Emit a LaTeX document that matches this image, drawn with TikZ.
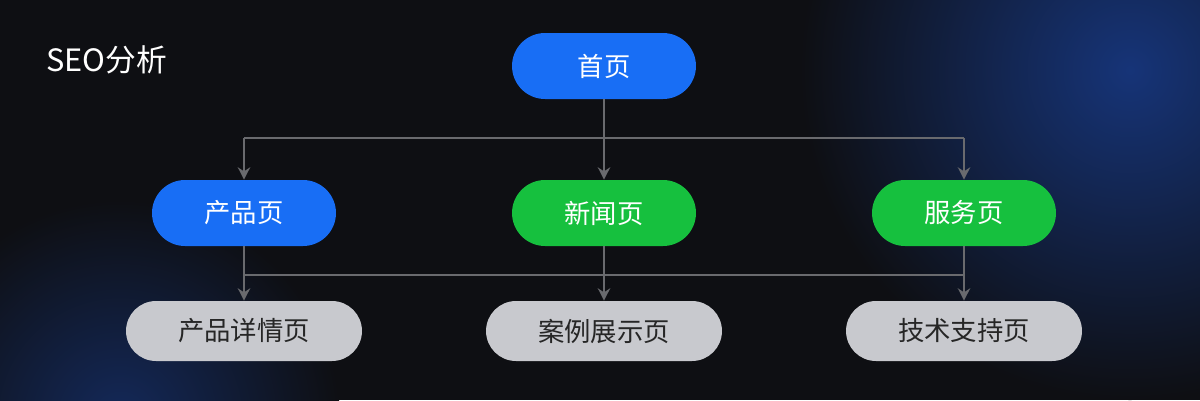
\documentclass[tikz,border=0pt]{standalone}
\usepackage{fontspec}
\setmainfont{Noto Sans CJK SC}
\usetikzlibrary{positioning, arrows.meta}
\definecolor{bgdark}{RGB}{14,15,19}
\definecolor{glow}{RGB}{22,52,120}
\definecolor{pageblue}{RGB}{24,110,245}
\definecolor{pagegreen}{RGB}{22,192,62}
\definecolor{pagegray}{RGB}{200,201,206}
\definecolor{linkgray}{RGB}{105,106,110}
\begin{document}
\begin{tikzpicture}[x=0.02cm, y=-0.02cm,
page/.style={rounded corners=0.66cm, minimum width=3.68cm, minimum height=1.32cm, text=white, font=\fontsize{15}{18}\selectfont, inner sep=0pt},
sub/.style={rounded corners=0.6cm, minimum width=4.72cm, minimum height=1.2cm, fill=pagegray, text=black!85, font=\fontsize{15}{18}\selectfont, inner sep=0pt},
link/.style={draw=linkgray, line width=1.3pt},
arr/.style={link, -{Stealth[length=7pt, width=7pt]}}
]
\fill[bgdark] (0,0) rectangle (1200,400);
\begin{scope}
\clip (0,0) rectangle (1200,400);
\shade[inner color=glow, outer color=bgdark] (1130,70) circle (330);
\shade[inner color=glow!70!bgdark, outer color=bgdark] (120,420) circle (220);
\end{scope}
\useasboundingbox (0,0) rectangle (1200,400);

\node[anchor=west, text=white, font=\fontsize{17.5}{20}\selectfont] (title) at (40,60) {SEO分析};

% levels
\node[page, fill=pageblue]  (home)    at (604,66)  {首页};
\node[page, fill=pageblue]  (product) at (244,213) {产品页};
\node[page, fill=pagegreen] (news)    at (604,213) {新闻页};
\node[page, fill=pagegreen] (service) at (964,213) {服务页};
\node[sub] (detail)  at (244,331) {产品详情页};
\node[sub] (cases)   at (604,331) {案例展示页};
\node[sub] (support) at (964,331) {技术支持页};

\coordinate (busA) at (604,138);
\coordinate (busB) at (604,275);

% links
\draw[link] (home) -- (busA);
\draw[link] (product |- busA) -- (service |- busA);
\draw[arr] (product |- busA) -- (product);
\draw[arr] (busA) -- (news);
\draw[arr] (service |- busA) -- (service);
\draw[link] (product |- busB) -- (service |- busB);
\draw[arr] (product) -- (detail);
\draw[arr] (news) -- (cases);
\draw[arr] (service) -- (support);
\end{tikzpicture}
\end{document}
